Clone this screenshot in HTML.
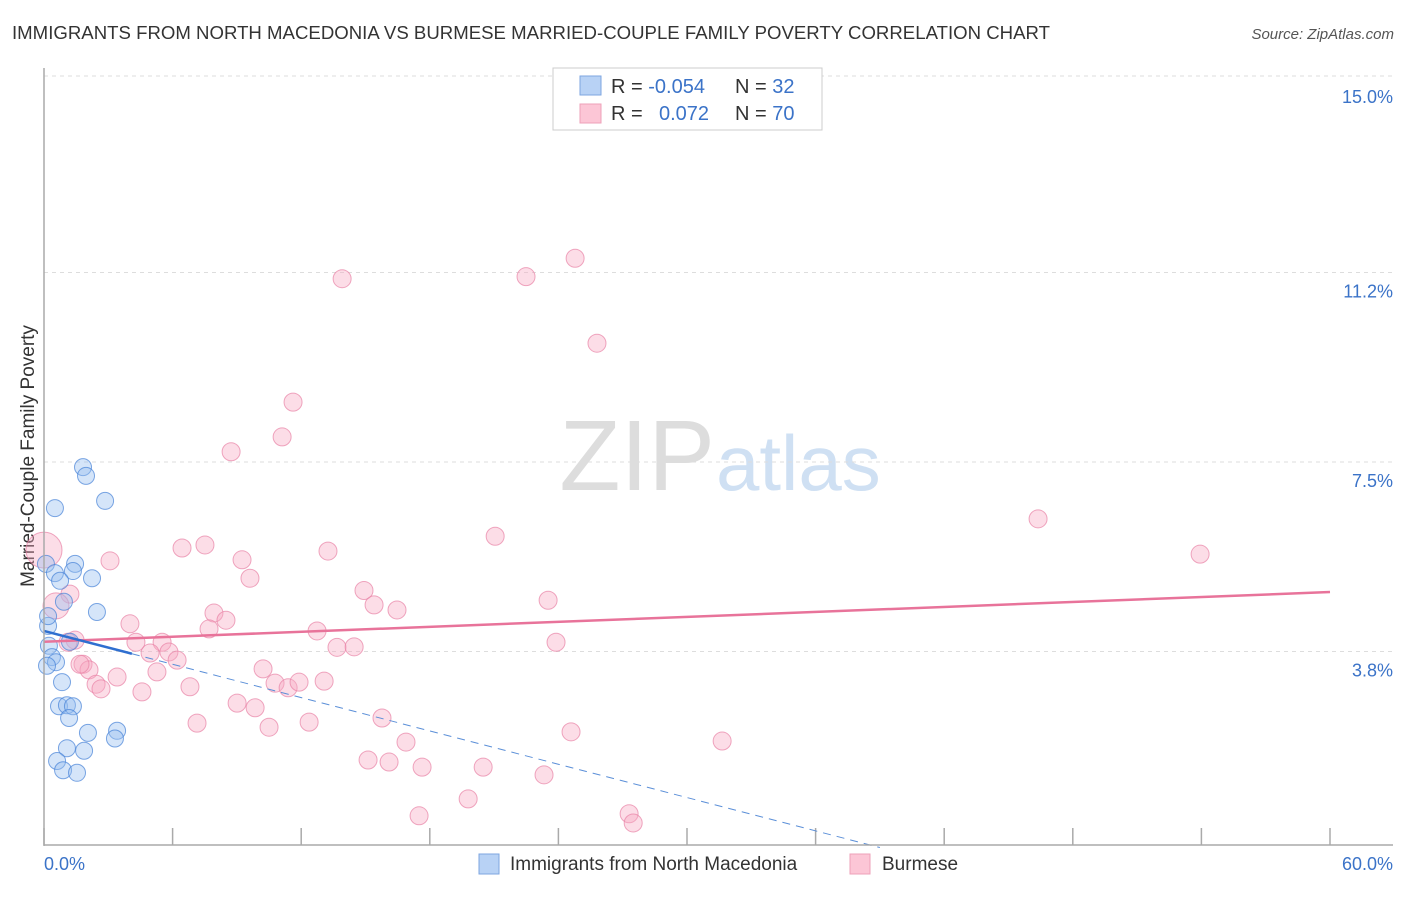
<!DOCTYPE html>
<html><head><meta charset="utf-8"><style>
body{margin:0;background:#fff;font-family:"Liberation Sans",sans-serif;}
svg text{font-family:"Liberation Sans",sans-serif;}
</style></head><body>
<svg id="c" width="1406" height="892" xmlns="http://www.w3.org/2000/svg">
<text x="12" y="39" font-size="18.6" fill="#333" textLength="1038">IMMIGRANTS FROM NORTH MACEDONIA VS BURMESE MARRIED-COUPLE FAMILY POVERTY CORRELATION CHART</text>
<text x="1394" y="39" font-size="15" fill="#555" font-style="italic" text-anchor="end">Source: ZipAtlas.com</text>
<text x="715" y="490" font-size="100" fill="#ddd" text-anchor="end" font-family="Liberation Serif">ZIP</text>
<text x="716" y="490" font-size="78" fill="#cfe0f3">atlas</text>
<text transform="translate(34,456) rotate(-90)" font-size="19" fill="#333" text-anchor="middle">Married-Couple Family Poverty</text>
<g id="grid"></g><g id="pts"></g><g id="lines"></g>
<line x1="44" y1="68" x2="44" y2="846" stroke="#aaa" stroke-width="1.5"/>
<line x1="44" y1="845" x2="1393" y2="845" stroke="#aaa" stroke-width="1.5"/>
<text x="44" y="870" font-size="18" fill="#3b73c8">0.0%</text>
<text x="1393" y="870" font-size="18" fill="#3b73c8" text-anchor="end">60.0%</text>
<g>
<rect x="553" y="68" width="269" height="62" fill="#fff" stroke="#ccc"/>
<rect x="580" y="76" width="21" height="19" fill="#b8d2f5" stroke="#7ea6e0"/>
<rect x="580" y="104" width="21" height="19" fill="#fcc6d6" stroke="#eea0b8"/>
<text x="611" y="93" font-size="20" fill="#333">R = <tspan fill="#3b73c8">-0.054</tspan></text>
<text x="735" y="93" font-size="20" fill="#333">N = <tspan fill="#3b73c8">32</tspan></text>
<text x="611" y="120" font-size="20" fill="#333">R = <tspan fill="#3b73c8" x="659">0.072</tspan></text>
<text x="735" y="120" font-size="20" fill="#333">N = <tspan fill="#3b73c8">70</tspan></text>
</g>
<g><rect x="479" y="854" width="20" height="20" fill="#b8d2f5" stroke="#7ea6e0"/><text x="510" y="870" font-size="19" fill="#333">Immigrants from North Macedonia</text></g>
<g><rect x="850" y="854" width="20" height="20" fill="#fcc6d6" stroke="#eea0b8"/><text x="882" y="870" font-size="19" fill="#333">Burmese</text></g>
</svg>
<script>
const yTicks=[15.0,11.2,7.5,3.8];
const yTickLabels=["15.0%","11.2%","7.5%","3.8%"];
const xTicks=[0,6,12,18,24,30,36,42,48,54,60];
const blueX=[1.82,1.96,0.51,2.85,0.09,1.45,0.51,1.35,2.24,0.75,0.93,2.47,0.19,0.23,1.21,0.37,0.56,0.14,0.84,0.70,1.07,1.35,1.17,2.05,1.07,1.87,3.41,3.31,0.61,0.89,1.54,0.19];
const blueY=[7.4,7.23,6.6,6.74,5.51,5.51,5.33,5.37,5.23,5.18,4.77,4.57,4.30,3.91,3.99,3.69,3.59,3.52,3.2,2.73,2.75,2.73,2.5,2.21,1.91,1.86,2.25,2.1,1.66,1.48,1.43,4.49];
const pinkX=[13.91,22.49,24.78,25.80,11.62,11.11,8.73,46.38,21.05,6.44,7.51,13.25,9.24,3.08,53.94,9.61,14.93,15.40,16.47,23.52,7.93,8.49,4.01,7.70,4.29,5.51,12.74,23.89,13.67,14.47,4.95,5.83,6.21,5.27,10.22,1.82,2.10,3.41,2.43,2.66,10.78,11.39,11.90,13.07,6.81,4.57,9.01,9.85,7.14,10.50,12.37,15.77,24.59,16.89,31.64,15.12,16.10,17.64,20.49,23.33,19.79,17.50,27.30,27.49,1.21,1.45,1.68,0.0,0.56,1.12];
const pinkY=[11.08,11.12,11.48,9.82,8.67,7.99,7.7,6.39,6.05,5.82,5.88,5.76,5.59,5.57,5.7,5.23,4.99,4.71,4.61,4.8,4.55,4.41,4.34,4.24,3.98,3.98,4.2,3.98,3.88,3.89,3.77,3.79,3.63,3.4,3.46,3.55,3.44,3.3,3.16,3.07,3.18,3.09,3.2,3.22,3.11,3.01,2.79,2.7,2.4,2.32,2.42,2.5,2.23,2.03,2.05,1.68,1.64,1.54,1.54,1.39,0.92,0.59,0.63,0.45,4.92,4.02,3.55,5.78,4.69,3.98];
const pinkR=[9,9,9,9,9,9,9,9,9,9,9,9,9,9,9,9,9,9,9,9,9,9,9,9,9,9,9,9,9,9,9,9,9,9,9,9,9,9,9,9,9,9,9,9,9,9,9,9,9,9,9,9,9,9,9,9,9,9,9,9,9,9,9,9,9,9,9,18,13,9];
const pinkTrend=[3.99,4.96];
const blueTrend=[4.2,-0.03];
const X=v=>44+v*(1286/60), Y=v=>846-v*51.2;
const NS="http://www.w3.org/2000/svg";
function mk(tag,attrs,parent){const e=document.createElementNS(NS,tag);for(const k in attrs)e.setAttribute(k,attrs[k]);document.getElementById(parent).appendChild(e);return e;}
yTicks.forEach((t,i)=>{
 const l=mk('line',{x1:44,x2:1393,y1:Y(t)-2*(i===0?1:0),y2:Y(t)-2*(i===0?1:0),stroke:'#ddd','stroke-dasharray':'4,4'},'grid');
 
 
 const tx=mk('text',{x:1393,y:Y(t)+25,'font-size':18,fill:'#3b73c8','text-anchor':'end'},'grid');tx.textContent=yTickLabels[i];
 
 
});
xTicks.forEach(t=>{
 const l=mk('line',{x1:X(t),x2:X(t),y1:828,y2:845,stroke:'#aaa','stroke-width':1.5},'grid');
 
 
});
pinkX.forEach((x,i)=>{
 const c=mk('circle',{cx:X(x),cy:Y(pinkY[i]),r:pinkR[i],fill:'rgba(248,170,195,0.4)',stroke:'rgba(232,130,165,0.7)','stroke-width':1},'pts');
 
 
});
blueX.forEach((x,i)=>{
 const c=mk('circle',{cx:X(x),cy:Y(blueY[i]),r:8.5,fill:'rgba(150,190,240,0.4)',stroke:'rgba(70,130,215,0.7)','stroke-width':1},'pts');
 
 
});
let l=mk('line',{x1:X(0),y1:Y(pinkTrend[0]),x2:X(60),y2:Y(pinkTrend[1]),stroke:'#e8739a','stroke-width':2.5},'lines');


const bslope=(blueTrend[1]-blueTrend[0])/39;
l=mk('line',{x1:X(0),y1:Y(blueTrend[0]),x2:X(4.1),y2:Y(blueTrend[0]+bslope*4.1),stroke:'#2f6fd0','stroke-width':2.5},'lines');


l=mk('line',{x1:X(4.1),y1:Y(blueTrend[0]+bslope*4.1),x2:X(39),y2:Y(blueTrend[1]),stroke:'#5b8fd8','stroke-width':1,'stroke-dasharray':'8,6'},'lines');


</script>
</body></html>
